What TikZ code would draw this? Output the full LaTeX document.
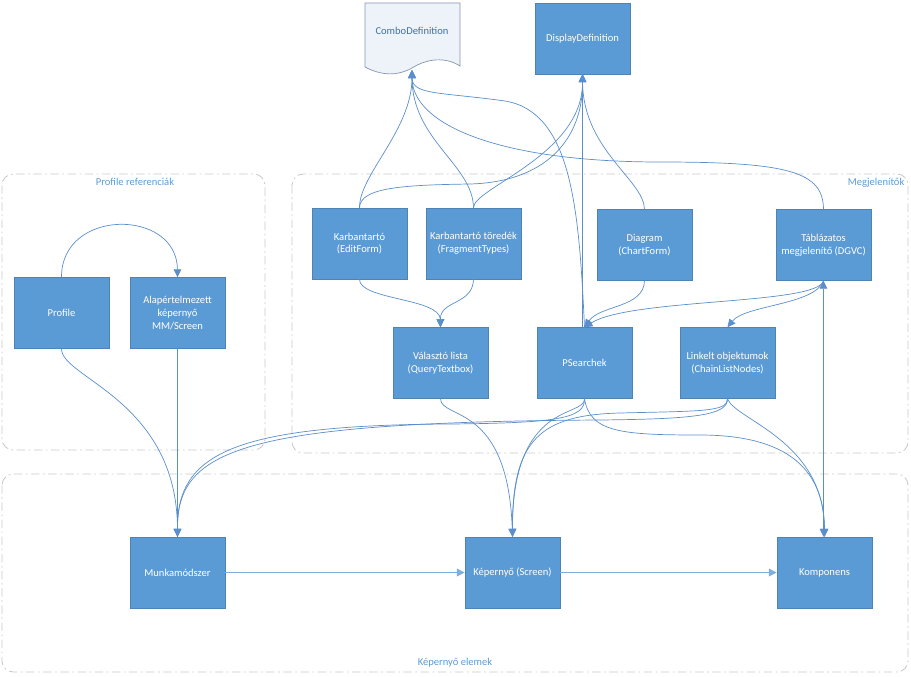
\documentclass[tikz,border=0pt]{standalone}
\usepackage{fontspec}
\setmainfont{Carlito}
\usetikzlibrary{arrows.meta,positioning}
\definecolor{boxBlue}{HTML}{5B9BD5}
\definecolor{lineBlue}{HTML}{5A8FCB}
\definecolor{groupGray}{HTML}{C8C8C8}
\definecolor{labelBlue}{HTML}{5B9BD5}
\definecolor{docEdge}{HTML}{8497B0}
\definecolor{docFill}{HTML}{EEF3FA}
\definecolor{docText}{HTML}{41719C}

\begin{document}
\begin{tikzpicture}[
    x=0.025cm, y=-0.025cm,
    font=\fontsize{7.5pt}{9pt}\selectfont,
    entity/.style={
        rectangle,
        fill=boxBlue,
        draw=boxBlue!85!black,
        line width=0.3pt,
        text=white,
        minimum width=2.375cm,
        minimum height=1.775cm,
        inner sep=2pt,
        align=center
    },
    group/.style={
        draw=groupGray,
        line width=0.6pt,
        rounded corners=8pt,
        dash pattern=on 6pt off 2.5pt on 1.2pt off 2.5pt
    },
    grouplabel/.style={
        text=labelBlue,
        inner sep=1pt
    },
    link/.style={
        -{Triangle[length=2mm,width=1.9mm]},
        draw=lineBlue,
        line width=0.5pt
    },
    mainflow/.style={
        -{Triangle[length=2mm,width=1.9mm]},
        draw=boxBlue!80,
        line width=1pt
    }
]
\useasboundingbox (0,0) rectangle (911,676);

% -------------------- Groups ---------------------------------
\draw[group] (2,174) rectangle (265,450);
\node[grouplabel, anchor=north] (proflabel) at (135,176) {Profile referenciák};

\draw[group] (292,174) rectangle (908,453);
\node[grouplabel, anchor=north east] (megjlabel) at (906,176) {Megjelenítők};

\draw[group] (2,474) rectangle (908,672);
\node[grouplabel] (scrlabel) at (455,663) {Képernyő elemek};

% -------------------- Definitions (top) ----------------------
\draw[draw=docEdge, fill=docFill, line width=0.5pt]
  (365,3) -- (460,3) -- (460,66)
  .. controls (446,57) and (428,58) .. (412,68)
  .. controls (398,76) and (382,76) .. (365,67) -- cycle;
\node[text=docText, minimum width=2.375cm] (combo) at (412,31) {ComboDefinition};
\coordinate (comboin) at (412,70);

\node[entity] (disp) at (582.5,38.5) {DisplayDefinition};

% -------------------- Profile referenciak --------------------
\node[entity] (prof) at (61.5,313) {Profile};
\node[entity] (alap) at (177.5,313) {Alapértelmezett\\képernyő\\MM/Screen};

% -------------------- Megjelenitok ---------------------------
\node[entity] (karb) at (359.5,243.5) {Karbantartó\\(EditForm)};
\node[entity] (tored) at (473.5,243.5) {Karbantartó töredék\\(FragmentTypes)};
\node[entity] (diag) at (644.5,245) {Diagram\\(ChartForm)};
\node[entity] (tabl) at (823.5,245) {Táblázatos\\megjelenítő (DGVC)};

\node[entity] (valaszto) at (440.5,363) {Választó lista\\(QueryTextbox)};
\node[entity] (psearch) at (584.5,363) {PSearchek};
\node[entity] (linkelt) at (727.5,363) {Linkelt objektumok\\(ChainListNodes)};

% -------------------- Kepernyo elemek ------------------------
\node[entity] (munka) at (177.5,572.5) {Munkamódszer};
\node[entity] (screen) at (512.5,572.5) {Képernyő (Screen)};
\node[entity] (komp) at (824.5,572.5) {Komponens};

% -------------------- Flows: up to the definitions -----------
\draw[link] (karb.north) .. controls (359,175) and (412,130) .. (comboin);
\draw[link] (karb.north) .. controls (360,188) and (400,185) .. (470,184)
  .. controls (545,182) and (583,140) .. (disp.south);
\draw[link] (tored.north) .. controls (473,165) and (412,140) .. (comboin);
\draw[link] (tored.north) .. controls (473,188) and (583,155) .. (disp.south);
\draw[link] (diag.north) .. controls (644,180) and (583,150) .. (disp.south);
\draw[link] (tabl.north) .. controls (823,172) and (790,162) .. (660,162)
  .. controls (500,162) and (412,125) .. (comboin);
\draw[link] (psearch.north) .. controls (579,210) and (572,112) .. (505,101)
  .. controls (440,92) and (412,95) .. (comboin);
\draw[link] (psearch.north -| disp.south) -- (disp.south);

% -------------------- Flows: inside Megjelenitok -------------
\draw[link] (karb.south) .. controls (359,300) and (440,298) .. (valaszto.north);
\draw[link] (tored.south) .. controls (473,305) and (440,300) .. (valaszto.north);
\draw[link] (diag.south) .. controls (644,308) and (600,305) .. (psearch.north);
\draw[link] (tabl.south) .. controls (818,305) and (630,298) .. (psearch.north);
\draw[link] (tabl.south) .. controls (815,305) and (745,305) .. (linkelt.north);
\draw[link, {Triangle[length=2mm,width=1.9mm]}-{Triangle[length=2mm,width=1.9mm]}]
  (komp.north -| tabl.south) -- (tabl.south);

% -------------------- Flows: Profile referenciak -------------
\draw[link] (prof.north) .. controls (61,208) and (177,208) .. (alap.north);
\draw[link] (prof.south) .. controls (61,378) and (177,400) .. (munka.north);
\draw[link] (alap.south) -- (munka.north);

% -------------------- Flows: down to Kepernyo elemek ---------
\draw[link] (psearch.south) .. controls (585,418) and (560,423) .. (450,424)
  .. controls (230,425) and (177,455) .. (munka.north);
\draw[link] (linkelt.south) .. controls (728,416) and (690,419) .. (600,420)
  .. controls (240,422) and (177,450) .. (munka.north);
\draw[link] (valaszto.south) .. controls (441,420) and (508,402) .. (screen.north);
\draw[link] (psearch.south) .. controls (585,418) and (512,400) .. (screen.north);
\draw[link] (linkelt.south) .. controls (728,412) and (700,411) .. (620,413)
  .. controls (540,415) and (512,440) .. (screen.north);
\draw[link] (psearch.south) .. controls (590,432) and (620,435) .. (700,435)
  .. controls (800,435) and (824,480) .. (komp.north);
\draw[link] (linkelt.south) .. controls (735,420) and (824,440) .. (komp.north);

\draw[mainflow] (munka.east) -- (screen.west);
\draw[mainflow] (screen.east) -- (komp.west);

\end{tikzpicture}
\end{document}
